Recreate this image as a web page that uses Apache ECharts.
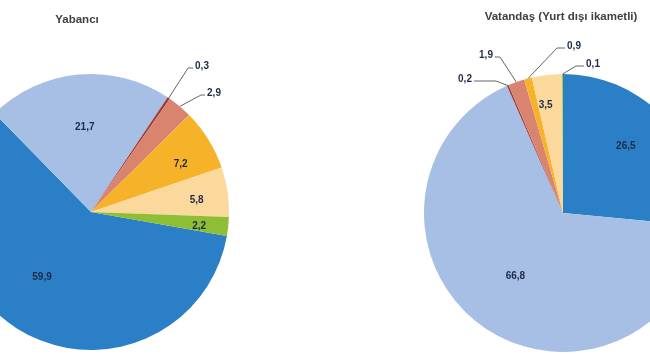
<!DOCTYPE html>
<html>
<head>
<meta charset="utf-8">
<script src="https://cdn.jsdelivr.net/npm/echarts@6/dist/echarts.min.js"></script>
<style>html,body{margin:0;padding:0;background:#fff}#c{width:650px;height:360px}</style>
</head>
<body>
<div id="c"></div>
<script>
var categories = ['K1', 'K2', 'K3', 'K4', 'K5', 'K6', 'K7'];
var titles = ['Yabancı', 'Vatandaş (Yurt dışı ikametli)'];
var yabanciValues = [59.9, 21.7, 0.3, 2.9, 7.2, 5.8, 2.2];
var vatandasValues = [26.5, 66.8, 0.2, 1.9, 0.9, 3.5, 0.1];

// styling
var colors = ['#2b7fc6', '#a7bfe4', '#9e3a38', '#d9846f', '#f6b32a', '#fbd99c', '#8dbe34'];
var pieCenters = [[91, 212], [563, 213]];
var pieRadius = [138, 139];
// radial fraction for inside labels (null = outside label)
var insideFrac = [
  [0.58, 0.62, null, null, 0.74, 0.77, 0.79],
  [0.66, 0.56, null, null, null, 0.79, null]
];
// small nudges for inside labels [dx, dy]
var insideNudge = [
  [[-10, -9], [2, 4], null, null, [-1, 8], [-4, 4], [-5, 2]],
  [[-8, -2], [0, -3], null, null, null, [-4, 6], null]
];
// outside label placement: text centre, side where the leader line attaches, elbow length
var outsidePlace = [
  { 2: { x: 202, y: 66, side: 'left', elbow: 5 }, 3: { x: 214, y: 93, side: 'left', elbow: 4 } },
  { 2: { x: 465, y: 79, side: 'right', elbow: 22 }, 3: { x: 486, y: 55, side: 'right', elbow: 5 },
    4: { x: 574, y: 46, side: 'left', elbow: 8 }, 6: { x: 593, y: 64, side: 'left', elbow: 8 } }
];

function fmt(v) { return v.toFixed(1).replace('.', ','); }

function buildData(values, s) {
  return values.map(function (v, i) {
    var out = insideFrac[s][i] === null;
    return {
      name: categories[i],
      value: v,
      itemStyle: { color: colors[i] },
      label: { position: out ? 'outside' : 'inside' },
      labelLine: { show: out }
    };
  });
}

function makeLayout(s) {
  return function (params) {
    var i = params.dataIndex;
    var rect = params.labelRect;
    var c = pieCenters[s];
    var f = insideFrac[s][i];
    if (f !== null) {
      var lx = rect.x + rect.width / 2, ly = rect.y + rect.height / 2;
      var k = f / 0.5;
      var n = insideNudge[s][i] || [0, 0];
      return { x: c[0] + (lx - c[0]) * k + n[0], y: c[1] + (ly - c[1]) * k + n[1], align: 'center', verticalAlign: 'middle' };
    }
    var p = outsidePlace[s][i];
    var halfW = rect.width / 2 + 2;
    var ax = p.side === 'left' ? p.x - halfW : p.x + halfW;
    var ay = p.y + 2;
    var ex = p.side === 'left' ? ax - p.elbow : ax + p.elbow;
    var pts = params.labelLinePoints;
    var start = pts ? pts[0] : [ex, ay];
    return {
      x: p.x, y: p.y, align: 'center', verticalAlign: 'middle',
      labelLinePoints: [start, [ex, ay], [ax, ay]]
    };
  };
}

var labelStyle = {
  show: true,
  formatter: function (p) { return fmt(p.value); },
  color: '#1e2b48',
  fontFamily: 'Liberation Sans, Arial, sans-serif',
  fontSize: 10,
  fontWeight: 'bold'
};
var titleStyle = { fontFamily: 'Liberation Sans, Arial, sans-serif', fontSize: 11.5, fontWeight: 'bold', color: '#404040' };

var chart = echarts.init(document.getElementById('c'));
chart.setOption({
  animation: false,
  backgroundColor: '#ffffff',
  title: [
    { text: titles[0], left: 72, top: 9, textAlign: 'center', textStyle: titleStyle },
    { text: titles[1], left: 556, top: 6, textAlign: 'center', textStyle: titleStyle }
  ],
  series: [0, 1].map(function (s) {
    return {
      type: 'pie',
      center: pieCenters[s],
      radius: [0, pieRadius[s]],
      startAngle: s === 0 ? -10 : 90,
      clockwise: true,
      avoidLabelOverlap: false,
      silent: true,
      label: labelStyle,
      labelLine: { length: 20, length2: 8, smooth: false, lineStyle: { color: '#666666', width: 1 } },
      labelLayout: makeLayout(s),
      data: buildData(s === 0 ? yabanciValues : vatandasValues, s)
    };
  })
});
</script>
</body>
</html>
